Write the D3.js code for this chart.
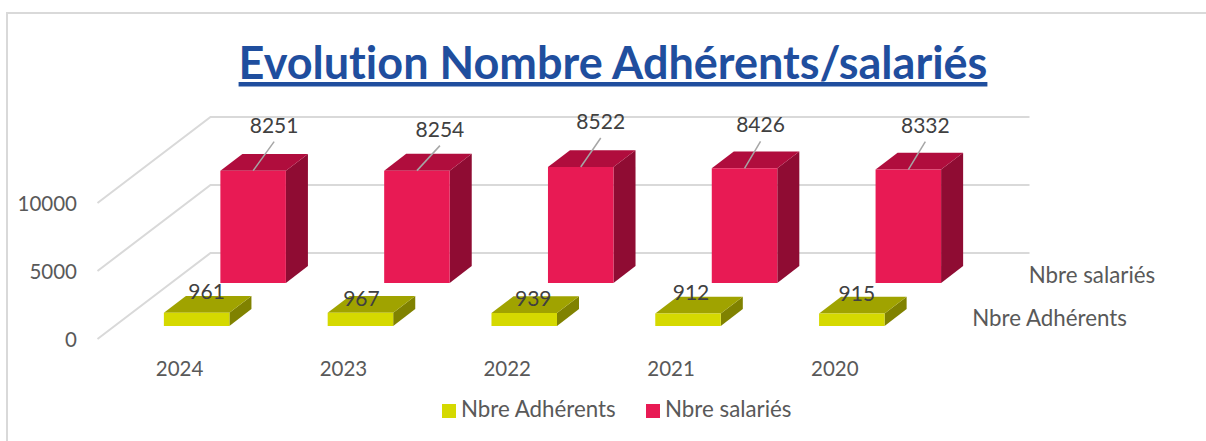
<!DOCTYPE html>
<html>
<head>
<meta charset="utf-8">
<script src="https://cdn.jsdelivr.net/npm/d3@7"></script>
<style>
  html, body { margin: 0; padding: 0; background: #fff; }
  svg { display: block; }
  text { font-family: Lato, "Open Sans", sans-serif; font-variant-ligatures: none; }
</style>
</head>
<body>
<svg id="chart" width="1206" height="441"></svg>
<script>
var years = ["2024", "2023", "2022", "2021", "2020"];
var seriesNames = ["Nbre Adhérents", "Nbre salariés"];
var adherents = [961, 967, 939, 912, 915];
var salaries = [8251, 8254, 8522, 8426, 8332];
var valueTicks = [0, 5000, 10000];

var svg = d3.select("#chart");

// floor front edge, and how far the depth axis runs back
var depthX = 113, depthY = -86;

var xScale = d3.scaleBand().domain(years).range([97.5, 916.5]).paddingInner(0.6).paddingOuter(0.3);
var yScale = d3.scaleLinear().domain([0, 10000]).range([339, 203]);
var depthScale = d3.scaleBand().domain(seriesNames).range([0, 1]).paddingInner(0.61).paddingOuter(0.305);

var colors = {
    "Nbre Adhérents": { front: "#d5d900", top: "#a0a300", side: "#808200" },
    "Nbre salariés": { front: "#e81a54", top: "#b00d3d", side: "#8f0c33" }
};

// 3d point: x in px along the floor, value, depth 0..1
function pt(x, v, d) {
    return [x + d * depthX, yScale(v) + d * depthY];
}

function line(points) { return "M" + points.map(function(p){ return p.join(","); }).join("L"); }

// frame
svg.append("path")
    .attr("d", "M1206,13H7V441")
    .attr("fill", "none")
    .attr("stroke", "#d9d9d9")
    .attr("stroke-width", 2);

// title
svg.append("text")
    .attr("x", 613).attr("y", 79)
    .attr("text-anchor", "middle")
    .attr("font-size", 45)
    .attr("font-weight", 700)
    .attr("fill", "#1f4e9e")
    .attr("text-decoration", "underline")
    .text("Evolution Nombre Adhérents/salariés");

// gridlines: side wall then back wall
valueTicks.forEach(function(t){
    svg.append("path")
        .attr("d", line([pt(97.5, t, 0), pt(97.5, t, 1), pt(916.5, t, 1)]))
        .attr("fill", "none")
        .attr("stroke", "#d9d9d9")
        .attr("stroke-width", 2);
});

// value axis labels
svg.selectAll("text.vtick")
    .data(valueTicks)
    .join("text")
    .attr("class", "vtick")
    .attr("x", 77)
    .attr("y", function(d){ return yScale(d) + 7.5; })
    .attr("text-anchor", "end")
    .attr("font-size", 20.5)
    .attr("fill", "#595959")
    .text(function(d){ return d; });

// year labels
svg.selectAll("text.year")
    .data(years)
    .join("text")
    .attr("class", "year")
    .attr("x", function(d){ return xScale(d) + 33; })
    .attr("y", 376)
    .attr("text-anchor", "middle")
    .attr("font-size", 20.5)
    .attr("fill", "#595959")
    .text(function(d){ return d; });

// series labels at the end of the depth axis
svg.selectAll("text.sname")
    .data(seriesNames)
    .join("text")
    .attr("class", "sname")
    .attr("x", function(d){ return pt(917 + 38, 0, depthScale(d))[0]; })
    .attr("y", function(d){ return pt(917, 0, depthScale(d))[1]; })
    .attr("font-size", 22.3)
    .attr("fill", "#595959")
    .text(function(d){ return d; });

function drawBars(name, values) {
    var d0 = depthScale(name), d1 = d0 + depthScale.bandwidth();
    var c = colors[name];
    var g = svg.append("g");
    years.forEach(function(y, i){
        var x0 = xScale(y), x1 = x0 + xScale.bandwidth(), v = values[i];
        g.append("path").attr("fill", c.side)
            .attr("d", line([pt(x1, 0, d0), pt(x1, 0, d1), pt(x1, v, d1), pt(x1, v, d0)]) + "Z");
        g.append("path").attr("fill", c.top)
            .attr("d", line([pt(x0, v, d0), pt(x1, v, d0), pt(x1, v, d1), pt(x0, v, d1)]) + "Z");
        g.append("path").attr("fill", c.front)
            .attr("d", line([pt(x0, 0, d0), pt(x1, 0, d0), pt(x1, v, d0), pt(x0, v, d0)]) + "Z");
    });
}

drawBars("Nbre salariés", salaries);
drawBars("Nbre Adhérents", adherents);

// hand placed labels, like the moved ones in the original
var salLabelShift = [[21, -38], [23, -34], [20, -38], [16, -36], [17, -37]];
var adhLabelShift = [[10, -14], [1, -7], [9, -7], [3, -13], [5, -12]];

function drawLabels(name, values, shifts, leader) {
    var d0 = depthScale(name);
    years.forEach(function(y, i){
        var p = pt(xScale(y) + xScale.bandwidth() / 2, values[i], d0);
        var lx = p[0] + shifts[i][0], ly = p[1] + shifts[i][1];
        if (leader) {
            svg.append("line")
                .attr("x1", p[0]).attr("y1", p[1])
                .attr("x2", lx).attr("y2", ly + 9)
                .attr("stroke", "#a6a6a6").attr("stroke-width", 1.5);
        }
        svg.append("text")
            .attr("x", lx).attr("y", ly)
            .attr("text-anchor", "middle")
            .attr("font-size", 21)
            .attr("fill", "#404040")
            .text(values[i]);
    });
}

drawLabels("Nbre salariés", salaries, salLabelShift, true);
drawLabels("Nbre Adhérents", adherents, adhLabelShift, false);

// legend
var legendX = [442, 646];
seriesNames.forEach(function(name, i){
    svg.append("rect")
        .attr("x", legendX[i]).attr("y", 404)
        .attr("width", 14).attr("height", 14)
        .attr("fill", colors[name].front);
    svg.append("text")
        .attr("x", legendX[i] + 19).attr("y", 417)
        .attr("font-size", 22.3)
        .attr("fill", "#595959")
        .text(name);
});
</script>
</body>
</html>
